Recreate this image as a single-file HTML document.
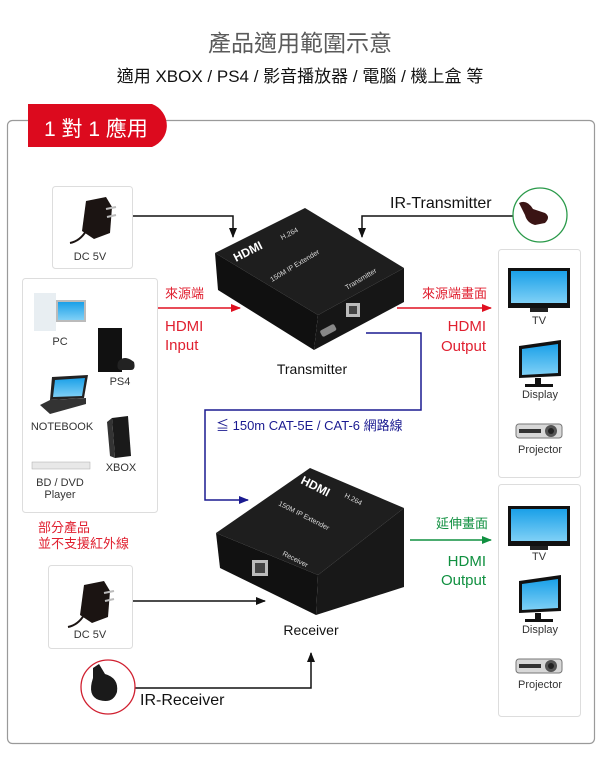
<!DOCTYPE html>
<html><head><meta charset="utf-8"><style>
body{margin:0;background:#fff;width:600px;height:758px;overflow:hidden}
svg text{font-family:"Liberation Sans","Noto Sans CJK TC",sans-serif}
</style></head><body>
<svg width="600" height="758" viewBox="0 0 600 758" xmlns="http://www.w3.org/2000/svg">
<defs>
<marker id="ab" markerWidth="10" markerHeight="8" refX="9" refY="4" orient="auto" markerUnits="userSpaceOnUse"><path d="M0,0 L10,4 L0,8 z" fill="#111"/></marker>
<marker id="ar" markerWidth="10" markerHeight="8" refX="9" refY="4" orient="auto" markerUnits="userSpaceOnUse"><path d="M0,0 L10,4 L0,8 z" fill="#e01020"/></marker>
<marker id="ag" markerWidth="10" markerHeight="8" refX="9" refY="4" orient="auto" markerUnits="userSpaceOnUse"><path d="M0,0 L10,4 L0,8 z" fill="#109040"/></marker>
<marker id="an" markerWidth="10" markerHeight="8" refX="9" refY="4" orient="auto" markerUnits="userSpaceOnUse"><path d="M0,0 L10,4 L0,8 z" fill="#1a1a90"/></marker>
<linearGradient id="scr" x1="0" y1="0" x2="0" y2="1"><stop offset="0" stop-color="#1aa0e8"/><stop offset="1" stop-color="#7fd0f6"/></linearGradient>
<g id="tv"><rect x="0" y="0" width="62" height="40" fill="#111"/><rect x="3" y="3" width="56" height="32" fill="url(#scr)"/><rect x="22" y="40" width="18" height="4" fill="#222"/></g>
<g id="disp"><polygon points="2,6 44,0 44,36 2,38" fill="#111"/><polygon points="5,9 41,4 41,33 5,35" fill="url(#scr)"/><rect x="18" y="38" width="6" height="6" fill="#111"/><rect x="8" y="44" width="28" height="3" fill="#111"/></g>
<g id="proj"><rect x="0" y="4" width="46" height="14" rx="3" fill="#d8d8d8" stroke="#777"/><rect x="3" y="9" width="22" height="4" fill="#333"/><circle cx="35" cy="11" r="6" fill="#555"/><circle cx="35" cy="11" r="3" fill="#222"/></g>
<g id="adp"><path d="M22,8 L42,4 L48,14 L46,40 L30,46 L18,38 Z" fill="#1b1412"/><path d="M42,16 L52,14 M43,24 L52,22" stroke="#bbb" stroke-width="2"/><path d="M22,38 Q16,48 6,50" stroke="#1b1412" stroke-width="2" fill="none"/></g>
</defs>

<text x="300" y="51" font-size="23" fill="#5a5a5a" text-anchor="middle">產品適用範圍示意</text>
<text x="300" y="82" font-size="17" fill="#111" text-anchor="middle">適用 XBOX / PS4 / 影音播放器 / 電腦 / 機上盒  等</text>

<rect x="7.5" y="120.5" width="587" height="623" rx="5" fill="none" stroke="#9a9a9a" stroke-width="1.2"/>
<path d="M28,104 L152,104 A23,23 0 0 1 152,147 L28,147 Z" fill="#dc0a1e"/>
<text x="44" y="136" font-size="21" fill="#fff">1 對 1 應用</text>

<rect x="52.5" y="186.5" width="80" height="82" rx="3" fill="#fff" stroke="#ddd"/>
<rect x="22.5" y="278.5" width="135" height="234" rx="3" fill="#fff" stroke="#ddd"/>
<rect x="498.5" y="249.5" width="82" height="228" rx="3" fill="#fff" stroke="#ddd"/>
<rect x="498.5" y="484.5" width="82" height="232" rx="3" fill="#fff" stroke="#ddd"/>
<rect x="48.5" y="565.5" width="84" height="83" rx="3" fill="#fff" stroke="#ddd"/>

<use href="#adp" x="64" y="193"/>
<text x="90" y="260" font-size="11" fill="#333" text-anchor="middle">DC 5V</text>
<use href="#adp" x="62" y="577"/>
<text x="90" y="638" font-size="11" fill="#333" text-anchor="middle">DC 5V</text>

<rect x="34" y="293" width="22" height="38" fill="#e8eef2"/><rect x="56" y="300" width="30" height="22" fill="#bbb"/><rect x="58" y="302" width="26" height="18" fill="url(#scr)"/>
<text x="60" y="345" font-size="11" fill="#333" text-anchor="middle">PC</text>
<rect x="98" y="328" width="24" height="44" fill="#111"/><path d="M118,362 q6,-8 16,0 q2,8 -3,8 l-10,0 q-5,0 -3,-8z" fill="#222"/>
<text x="120" y="385" font-size="11" fill="#333" text-anchor="middle">PS4</text>
<polygon points="52,377 88,375 84,398 50,400" fill="#222"/><polygon points="55,380 85,378 82,396 53,397" fill="url(#scr)"/><polygon points="40,405 50,400 86,398 86,404 50,414" fill="#333"/>
<text x="62" y="430" font-size="11" fill="#333" text-anchor="middle">NOTEBOOK</text>
<polygon points="112,418 128,416 131,456 115,458" fill="#1a1a1a"/><polygon points="107,422 112,418 115,458 110,456" fill="#333"/>
<text x="121" y="471" font-size="11" fill="#333" text-anchor="middle">XBOX</text>
<rect x="32" y="462" width="58" height="7" fill="#e8e8e8" stroke="#aaa" stroke-width="0.5"/>
<text x="60" y="486" font-size="11" fill="#333" text-anchor="middle">BD / DVD</text>
<text x="60" y="498" font-size="11" fill="#333" text-anchor="middle">Player</text>

<text x="38" y="532" font-size="13" fill="#e02030">部分產品</text>
<text x="38" y="548" font-size="13" fill="#e02030">並不支援紅外線</text>

<use href="#tv" x="508" y="268"/><text x="539" y="324" font-size="11" fill="#333" text-anchor="middle">TV</text>
<use href="#disp" x="517" y="340"/><text x="540" y="398" font-size="11" fill="#333" text-anchor="middle">Display</text>
<use href="#proj" x="516" y="420"/><text x="540" y="453" font-size="11" fill="#333" text-anchor="middle">Projector</text>
<use href="#tv" x="508" y="506"/><text x="539" y="560" font-size="11" fill="#333" text-anchor="middle">TV</text>
<use href="#disp" x="517" y="575"/><text x="540" y="633" font-size="11" fill="#333" text-anchor="middle">Display</text>
<use href="#proj" x="516" y="655"/><text x="540" y="688" font-size="11" fill="#333" text-anchor="middle">Projector</text>

<polygon points="215,253 305,208 404,268 318,315" fill="#1e1e1e"/>
<polygon points="215,253 318,315 314,350 218,290" fill="#101010"/>
<polygon points="318,315 404,268 404,302 314,350" fill="#161616"/>
<text x="0" y="0" font-size="12" font-weight="bold" fill="#fff" transform="translate(236,262) rotate(-27)">HDMI</text>
<text x="0" y="0" font-size="7" fill="#ddd" transform="translate(282,240) rotate(-27)">H.264</text>
<text x="0" y="0" font-size="7" fill="#ddd" transform="translate(272,282) rotate(-31)">150M IP Extender</text>
<text x="0" y="0" font-size="7" fill="#ddd" transform="translate(347,290) rotate(-31)">Transmitter</text>
<rect x="346" y="303" width="14" height="14" fill="#bbb"/><rect x="349" y="306" width="8" height="8" fill="#444"/>
<rect x="320" y="327" width="16" height="7" rx="2" fill="#888" transform="rotate(-28 328 330)"/>
<text x="312" y="374" font-size="14" fill="#111" text-anchor="middle">Transmitter</text>

<polygon points="216,533 310,468 404,508 318,575" fill="#1e1e1e"/>
<polygon points="216,533 318,575 316,615 220,568" fill="#111"/>
<polygon points="318,575 404,508 404,587 316,615" fill="#181818"/>
<text x="0" y="0" font-size="12" font-weight="bold" fill="#fff" transform="translate(300,483) rotate(27)">HDMI</text>
<text x="0" y="0" font-size="7" fill="#ddd" transform="translate(344,497) rotate(27)">H.264</text>
<text x="0" y="0" font-size="7" fill="#ddd" transform="translate(278,505) rotate(27)">150M IP Extender</text>
<text x="0" y="0" font-size="7" fill="#ddd" transform="translate(282,555) rotate(27)">Receiver</text>
<rect x="252" y="560" width="16" height="16" fill="#bbb"/><rect x="255" y="563" width="10" height="10" fill="#444"/>
<text x="311" y="635" font-size="14" fill="#111" text-anchor="middle">Receiver</text>

<polyline points="133,216 233,216 233,237" fill="none" stroke="#111" stroke-width="1.5" marker-end="url(#ab)"/>
<polyline points="513,216 362,216 362,237" fill="none" stroke="#111" stroke-width="1.5" marker-end="url(#ab)"/>
<line x1="158" y1="308" x2="240" y2="308" stroke="#e01020" stroke-width="1.5" marker-end="url(#ar)"/>
<line x1="397" y1="308" x2="491" y2="308" stroke="#e01020" stroke-width="1.5" marker-end="url(#ar)"/>
<polyline points="366,333 421,333 421,410 205,410 205,500 248,500" fill="none" stroke="#1a1a90" stroke-width="1.5" marker-end="url(#an)"/>
<line x1="410" y1="540" x2="491" y2="540" stroke="#109040" stroke-width="1.5" marker-end="url(#ag)"/>
<line x1="133" y1="601" x2="265" y2="601" stroke="#111" stroke-width="1.5" marker-end="url(#ab)"/>
<polyline points="135,688 311,688 311,653" fill="none" stroke="#111" stroke-width="1.5" marker-end="url(#ab)"/>

<text x="165" y="298" font-size="13" fill="#e02030">來源端</text>
<text x="165" y="331" font-size="15" fill="#e02030">HDMI</text>
<text x="165" y="350" font-size="15" fill="#e02030">Input</text>
<text x="487" y="298" font-size="13" fill="#e02030" text-anchor="end">來源端畫面</text>
<text x="486" y="331" font-size="15" fill="#e02030" text-anchor="end">HDMI</text>
<text x="486" y="351" font-size="15" fill="#e02030" text-anchor="end">Output</text>
<text x="216" y="430" font-size="13" fill="#1a1a90">≦ 150m CAT-5E / CAT-6 網路線</text>
<text x="488" y="528" font-size="13" fill="#109040" text-anchor="end">延伸畫面</text>
<text x="486" y="566" font-size="15" fill="#109040" text-anchor="end">HDMI</text>
<text x="486" y="585" font-size="15" fill="#109040" text-anchor="end">Output</text>
<text x="390" y="208" font-size="16" fill="#111">IR-Transmitter</text>
<text x="140" y="705" font-size="16" fill="#111">IR-Receiver</text>

<circle cx="540" cy="215" r="27" fill="#fff" stroke="#2a9a4a" stroke-width="1.3"/>
<path d="M519,203 q8,-4 14,6 l12,4 q6,4 0,10 l-10,2 q-8,-2 -10,-10z" fill="#3a1414"/>
<circle cx="108" cy="687" r="27" fill="#fff" stroke="#d02030" stroke-width="1.3"/>
<path d="M93,668 l6,-4 l6,10 q14,4 12,18 q-4,12 -18,8 q-12,-4 -6,-22z" fill="#1a1a1a"/>
</svg>
</body></html>
